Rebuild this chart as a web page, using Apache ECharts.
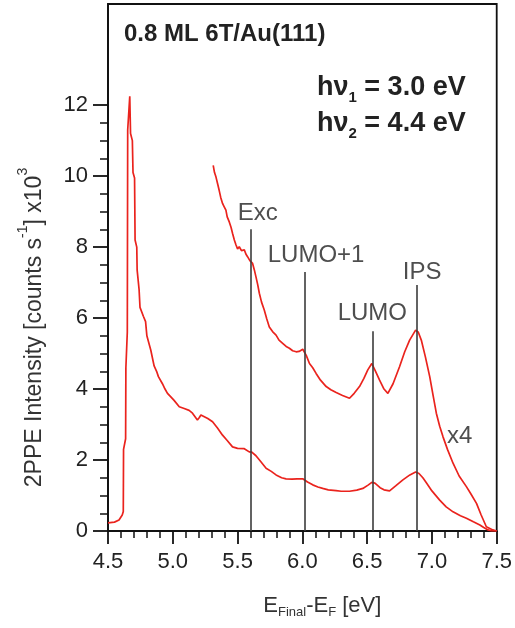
<!DOCTYPE html>
<html>
<head>
<meta charset="utf-8">
<script src="https://cdn.jsdelivr.net/npm/echarts@6/dist/echarts.min.js"></script>
<style>
html,body{margin:0;padding:0;background:#fff;}
#chart{width:515px;height:628px;}
</style>
</head>
<body>
<div id="chart"></div>
<script>
// ---- data ----
const energyMain = [4.50,4.55,4.585,4.61,4.618,4.620,4.636,4.638,4.649,4.652,4.668,4.674,4.688,4.693,4.705,4.709,4.722,4.725,4.74,4.747,4.773,4.79,4.80,4.83,4.856,4.875,4.889,4.92,4.94,4.959,4.985,5.01,5.05,5.088,5.126,5.152,5.19,5.205,5.217,5.23,5.27,5.307,5.345,5.384,5.42,5.461,5.50,5.552,5.59,5.61,5.642,5.68,5.72,5.76,5.797,5.84,5.874,5.92,5.96,6.003,6.04,6.08,6.12,6.157,6.20,6.26,6.30,6.364,6.42,6.467,6.51,6.536,6.56,6.60,6.63,6.673,6.72,6.776,6.83,6.874,6.90,6.93,6.957,7.00,7.06,7.11,7.163,7.22,7.266,7.32,7.37,7.40,7.433,7.46,7.50];
const intensityMain = [0.23,0.25,0.31,0.45,0.55,2.3,2.6,4.6,5.6,11.3,12.25,11.2,11.0,10.1,9.95,8.2,8.0,7.35,6.8,6.3,6.05,5.9,5.5,5.1,4.65,4.5,4.35,4.15,4.0,3.88,3.78,3.68,3.5,3.45,3.4,3.32,3.13,3.2,3.27,3.25,3.17,3.08,2.9,2.7,2.55,2.37,2.33,2.32,2.23,2.22,2.12,1.95,1.77,1.68,1.58,1.5,1.47,1.46,1.47,1.47,1.38,1.3,1.24,1.2,1.16,1.14,1.12,1.12,1.15,1.2,1.3,1.37,1.35,1.22,1.16,1.13,1.27,1.44,1.58,1.66,1.62,1.5,1.36,1.13,0.87,0.68,0.54,0.43,0.36,0.26,0.17,0.1,0.03,0.0,0.0];

const energyX4 = [5.312,5.322,5.333,5.345,5.358,5.37,5.384,5.395,5.41,5.42,5.436,5.45,5.461,5.475,5.488,5.50,5.513,5.53,5.552,5.565,5.577,5.595,5.616,5.63,5.642,5.655,5.668,5.685,5.706,5.725,5.745,5.77,5.797,5.82,5.848,5.875,5.9,5.925,5.952,5.975,6.003,6.03,6.055,6.08,6.106,6.14,6.184,6.22,6.261,6.31,6.364,6.40,6.441,6.475,6.505,6.536,6.565,6.596,6.63,6.66,6.70,6.75,6.79,6.828,6.874,6.895,6.918,6.95,6.983,7.01,7.034,7.06,7.085,7.12,7.163,7.21,7.266,7.30,7.344,7.38,7.42,7.47,7.50];
const intensityX4 = [10.3,10.1,9.98,9.8,9.6,9.4,9.23,9.15,9.04,8.85,8.71,8.55,8.39,8.2,8.06,7.95,8.01,7.9,7.92,7.8,7.73,7.62,7.54,7.35,7.16,6.95,6.70,6.45,6.23,5.98,5.75,5.62,5.52,5.38,5.29,5.2,5.15,5.08,5.05,5.06,5.12,4.95,4.72,4.6,4.44,4.25,4.07,3.98,3.9,3.82,3.74,3.88,4.07,4.3,4.54,4.72,4.5,4.25,4.0,3.88,4.15,4.63,5.05,5.38,5.66,5.6,5.38,4.9,4.35,3.8,3.32,2.95,2.66,2.3,1.91,1.55,1.25,1.05,0.78,0.45,0.12,0.03,0.0];

// vertical marker lines: name, energy, top intensity
const markerNames = ['Exc','LUMO+1','LUMO','IPS'];
const markerEnergy = [5.6,6.02,6.54,6.88];
const markerTop = [8.5,7.3,5.63,6.93];

// text annotations: label, energy, intensity (label centre)
const annoText = ['Exc','LUMO+1','LUMO','IPS','x4'];
const annoX = [5.655,6.106,6.54,6.925,7.215];
const annoY = [8.96,7.77,6.14,7.28,2.66];

const xTicks = [4.5,5.0,5.5,6.0,6.5,7.0,7.5];
const yMajorTicks = [0,2,4,6,8,10,12];
const yMinorTicks = [0.5,1,1.5,2.5,3,3.5,4.5,5,5.5,6.5,7,7.5,8.5,9,9.5,10.5,11,11.5];

const zip = (a,b) => a.map((v,i)=>[v,b[i]]);

const chart = echarts.init(document.getElementById('chart'), null, {renderer:'canvas'});
const FONT = 'Liberation Sans, Arial, sans-serif';
const YMAX = 14.85;

const option = {
  animation: false,
  backgroundColor: '#fff',
  grid: {left:108, right:18, top:4, bottom:97, show:true, borderColor:'#111', borderWidth:1.8, backgroundColor:'transparent'},
  xAxis: {
    type:'value', min:4.5, max:7.5, interval:0.5,
    axisLine:{show:true, onZero:false, lineStyle:{color:'#111', width:1.8}},
    axisTick:{show:true, length:13, inside:false, lineStyle:{color:'#111', width:1.8}},
    minorTick:{show:true, splitNumber:5, length:7, lineStyle:{color:'#111', width:1.5}},
    splitLine:{show:false},
    axisLabel:{fontSize:22, color:'#222', fontFamily:FONT, margin:20, formatter:v=>v.toFixed(1), customValues: xTicks},
    name:'{m|E}{s|Final}{m|-E}{s|F}{m| [eV]}',
    nameLocation:'middle', nameGap:62,
    nameTextStyle:{fontFamily:FONT, color:'#222', padding:[0,0,0,40], rich:{
      m:{fontSize:22, fontFamily:FONT, color:'#333', lineHeight:26, verticalAlign:'middle'},
      s:{fontSize:13, fontFamily:FONT, color:'#333', lineHeight:26, verticalAlign:'bottom', padding:[8,0,0,0]}
    }}
  },
  yAxis: [{
    type:'value', min:0, max:YMAX, interval:2,
    axisLine:{show:true, onZero:false, lineStyle:{color:'#111', width:1.8}},
    axisTick:{show:true, length:15, inside:false, customValues:yMajorTicks, lineStyle:{color:'#111', width:1.8}},
    minorTick:{show:false},
    splitLine:{show:false},
    axisLabel:{fontSize:22, color:'#222', fontFamily:FONT, margin:20, customValues:yMajorTicks},
    name:'{m|2PPE Intensity [counts s}{p|-1}{m|] x10}{p|3}',
    nameLocation:'middle', nameGap:62, nameRotate:90,
    nameTextStyle:{fontFamily:FONT, color:'#222', padding:[0,120,0,0], rich:{
      m:{fontSize:23, fontFamily:FONT, color:'#333', lineHeight:30, verticalAlign:'bottom'},
      p:{fontSize:14, fontFamily:FONT, color:'#333', lineHeight:30, verticalAlign:'top'}
    }}
  },{
    type:'value', min:0, max:YMAX, interval:2, position:'left',
    axisLine:{show:false},
    axisTick:{show:true, length:8, inside:false, customValues:yMinorTicks, lineStyle:{color:'#111', width:1.5}},
    axisLabel:{show:false},
    splitLine:{show:false}
  }],
  graphic: [
    {type:'text', left:124, top:22, style:{text:'0.8 ML 6T/Au(111)', font:'bold 24px '+FONT, fill:'#222'}},
    {type:'text', left:317, top:74, style:{
      text:'{b|hν}{s|1}{b| = 3.0 eV}\n{b|hν}{s|2}{b| = 4.4 eV}',
      rich:{
        b:{font:'bold 27px '+FONT, fill:'#222', lineHeight:36, verticalAlign:'middle'},
        s:{font:'bold 15px '+FONT, fill:'#222', lineHeight:36, verticalAlign:'bottom', padding:[16,0,0,0]}
      }}}
  ],
  series: [
    {type:'line', name:'main', data: zip(energyMain, intensityMain), showSymbol:false, symbol:'none',
     lineStyle:{color:'#ea231d', width:1.7}, z:3,
     markLine:{silent:true, symbol:['none','none'], label:{show:false},
       lineStyle:{color:'#3c3c3c', width:1.6, type:'solid'},
       data: markerEnergy.map((e,i)=>[{coord:[e,0]},{coord:[e,markerTop[i]]}])}
    },
    {type:'line', name:'x4', data: zip(energyX4, intensityX4), showSymbol:false, symbol:'none',
     lineStyle:{color:'#ea231d', width:1.7}, z:3},
    {type:'scatter', name:'labels', symbolSize:0, data: annoX.map((x,i)=>[x, annoY[i], annoText[i]]),
     label:{show:true, position:'inside', formatter:p=>p.data[2], fontSize:24, fontFamily:FONT, color:'#222'}, z:4}
  ]
};
chart.setOption(option);
</script>
</body>
</html>
